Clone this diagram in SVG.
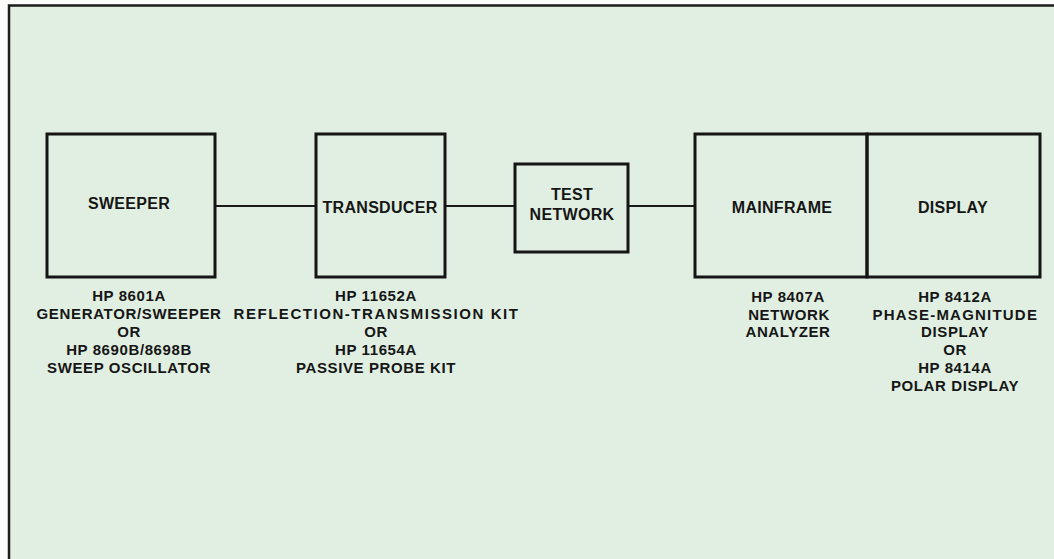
<svg xmlns="http://www.w3.org/2000/svg" width="1054" height="559" viewBox="0 0 1054 559">
  <style>
    .box { fill: none; stroke: #151515; stroke-width: 3; }
    .wire { stroke: #1a1a1a; stroke-width: 2; fill: none; }
    .name { font-family: "Liberation Sans", Arial, sans-serif; font-weight: bold; font-size: 16px; letter-spacing: 0.3px; fill: #161616; text-anchor: middle; }
    .lab { font-family: "Liberation Sans", Arial, sans-serif; font-weight: bold; font-size: 15px; letter-spacing: 0.6px; fill: #161616; text-anchor: middle; }
  </style>
  <rect x="0" y="0" width="1054" height="559" fill="#fbfcfa"/>
  <rect x="9" y="5" width="1045" height="554" fill="#e0efe1"/>
  <path d="M9 559 V5.5 H1054" fill="none" stroke="#1c1c1c" stroke-width="2.5"/>

  <g id="connectors">
    <line class="wire" x1="215" y1="206" x2="316" y2="206"/>
    <line class="wire" x1="445" y1="206" x2="515" y2="206"/>
    <line class="wire" x1="628" y1="206" x2="695" y2="206"/>
  </g>

  <g id="sweeper">
    <rect class="box" x="47" y="134" width="168" height="143"/>
    <text class="name" x="129" y="209">SWEEPER</text>
    <text class="lab" x="129" y="301">HP 8601A</text>
    <text class="lab" x="129" y="319" textLength="185">GENERATOR/SWEEPER</text>
    <text class="lab" x="129" y="337">OR</text>
    <text class="lab" x="129" y="354.5">HP 8690B/8698B</text>
    <text class="lab" x="129" y="372.5">SWEEP  OSCILLATOR</text>
  </g>

  <g id="transducer">
    <rect class="box" x="316" y="134" width="129" height="143"/>
    <text class="name" x="380" y="212.5">TRANSDUCER</text>
    <text class="lab" x="376" y="301">HP 11652A</text>
    <text class="lab" x="376" y="319" textLength="285">REFLECTION-TRANSMISSION KIT</text>
    <text class="lab" x="376" y="337">OR</text>
    <text class="lab" x="376" y="354.5">HP 11654A</text>
    <text class="lab" x="376" y="372.5">PASSIVE PROBE KIT</text>
  </g>

  <g id="test-network">
    <rect class="box" x="515" y="164" width="113" height="88"/>
    <text class="name" x="572" y="200">TEST</text>
    <text class="name" x="572" y="220">NETWORK</text>
  </g>

  <g id="mainframe">
    <rect class="box" x="695" y="134" width="172" height="143"/>
    <text class="name" x="782" y="212.5">MAINFRAME</text>
    <text class="lab" x="788" y="302">HP 8407A</text>
    <text class="lab" x="789" y="320">NETWORK</text>
    <text class="lab" x="788" y="337">ANALYZER</text>
  </g>

  <g id="display">
    <rect class="box" x="867" y="134" width="173" height="143"/>
    <text class="name" x="953" y="212.5">DISPLAY</text>
    <text class="lab" x="955" y="302">HP 8412A</text>
    <text class="lab" x="955" y="320" textLength="165">PHASE-MAGNITUDE</text>
    <text class="lab" x="955" y="337">DISPLAY</text>
    <text class="lab" x="955" y="355">OR</text>
    <text class="lab" x="955" y="372.5">HP 8414A</text>
    <text class="lab" x="955" y="391">POLAR  DISPLAY</text>
  </g>
</svg>
